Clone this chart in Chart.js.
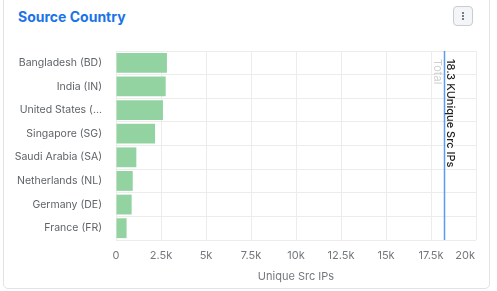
<!DOCTYPE html>
<html><head><meta charset="utf-8">
<script src="https://cdn.jsdelivr.net/npm/chart.js@4/dist/chart.umd.min.js"></script>
<style>
html,body{margin:0;padding:0;background:#fff;width:497px;height:291px;overflow:hidden;font-family:Inter,"Noto Sans",sans-serif}
#card{position:absolute;left:3px;top:-6px;width:487px;height:295px;border:1px solid #e3e3e3;border-radius:5px;box-sizing:border-box;background:#fff}
#title{position:absolute;left:18px;top:8px;font-size:14px;font-weight:700;color:#1a73e8}
#menu{position:absolute;left:453px;top:6px;width:20px;height:20px;border:1px solid #c9ccd1;border-radius:4px;box-sizing:border-box;background:#f3f5f8;display:flex;align-items:center;justify-content:center}
#menu span{display:block;width:2px;height:2px;background:#555;margin:1px 0;border-radius:1px}
#wrap{position:absolute;left:0;top:0;width:497px;height:291px}
</style></head>
<body>
<div id="card"></div>
<div id="title">Source Country</div>
<div id="menu"><div><span></span><span></span><span></span></div></div>
<div id="wrap"><canvas id="c" width="497" height="291"></canvas></div>
<script>
const categories = ["Bangladesh (BD)","India (IN)","United States (...","Singapore (SG)","Saudi Arabia (SA)","Netherlands (NL)","Germany (DE)","France (FR)"];
const uniqueSrcIPs = [2830,2760,2610,2170,1130,930,870,590];
const totalValue = 18300;
const totalLabel = "18.3 KUnique Src IPs";
const totalCaption = "Total";
const xTicks = [0,2500,5000,7500,10000,12500,15000,17500,20000];
const xTickLabels = ["0","2.5k","5k","7.5k","10k","12.5k","15k","17.5k","20k"];

const FONT = 'Inter, "Noto Sans", sans-serif';

const totalLine = {
  id:'totalLine',
  beforeDraw(chart){
    const s = chart.scales.x;
    const items = s.getLabelItems();
    const last = items[items.length-1];
    if (last) { last.options.textAlign = 'right'; last.options.translation[0] = chart.chartArea.right - 1; }
  },
  afterDatasetsDraw(chart){
    const {ctx, chartArea, scales} = chart;
    const x = Math.round(scales.x.getPixelForValue(totalValue)) - 0.5;
    ctx.save();
    ctx.strokeStyle = '#5b9bef';
    ctx.lineWidth = 1.5;
    ctx.beginPath();
    ctx.moveTo(x, chartArea.top);
    ctx.lineTo(x, chartArea.bottom);
    ctx.stroke();
    ctx.translate(x, chartArea.top + 8);
    ctx.rotate(Math.PI/2);
    ctx.textBaseline = 'middle';
    ctx.textAlign = 'left';
    ctx.font = '500 11px ' + FONT;
    ctx.fillStyle = '#222';
    ctx.fillText(totalLabel, 0, -6);
    ctx.font = '400 11px ' + FONT;
    ctx.fillStyle = '#cfcfcf';
    ctx.fillText(totalCaption, 0, 7);
    ctx.restore();
  }
};

new Chart(document.getElementById('c'), {
  type:'bar',
  data:{labels:categories, datasets:[{data:uniqueSrcIPs, backgroundColor:'#93d3a2', borderWidth:0, barPercentage:0.84, categoryPercentage:1}]},
  options:{
    indexAxis:'y', responsive:false, animation:false, devicePixelRatio:1,
    layout:{padding:{left:0,right:21,top:51,bottom:8}},
    plugins:{legend:{display:false}, tooltip:{enabled:false}},
    scales:{
      x:{min:0,max:20000,
        afterBuildTicks(s){ s.ticks = xTicks.map(v=>({value:v})); },
        afterFit(s){ s.height = 43; },
        ticks:{callback:(v,i)=>xTickLabels[i], color:'#74787e', font:{family:FONT, size:11}, padding:9, maxRotation:0},
        grid:{color:'#ececec', drawTicks:false},
        border:{display:false},
        title:{display:true, text:'Unique Src IPs', color:'#74787e', font:{family:FONT, size:11}, padding:{top:1,bottom:0}}
      },
      y:{
        afterFit(s){ s.width = 116; },
        ticks:{color:'#5f6368', font:{family:FONT, size:10.5}, padding:14},
        grid:{color:'#ececec', drawTicks:false, offset:true},
        border:{display:false}
      }
    }
  },
  plugins:[totalLine]
});
</script>
</body></html>
